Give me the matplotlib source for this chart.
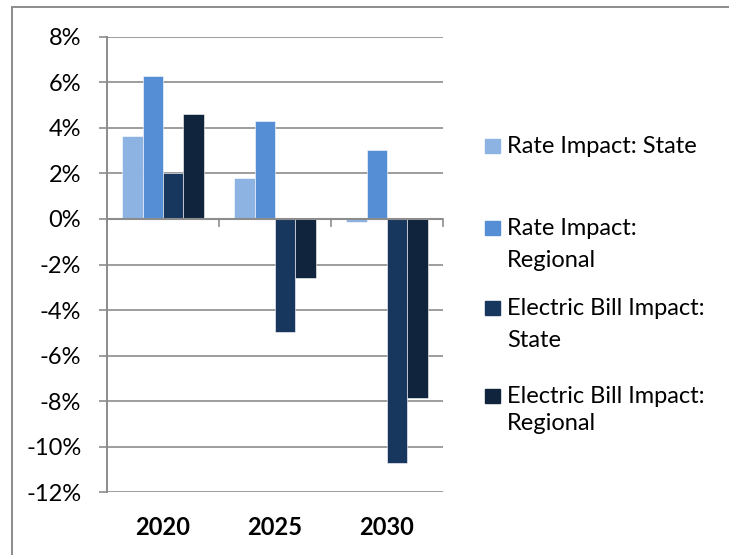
import matplotlib
matplotlib.use("Agg")
import matplotlib.pyplot as plt
from matplotlib.patches import Rectangle
from matplotlib.lines import Line2D
import numpy as np

categories = ["2020", "2025", "2030"]
series_names = ["Rate Impact: State", "Rate Impact:\nRegional",
                "Electric Bill Impact:\nState", "Electric Bill Impact:\nRegional"]
rate_state = [3.66, 1.78, -0.13]
rate_regional = [6.28, 4.32, 3.01]
bill_state = [2.01, -4.96, -10.72]
bill_regional = [4.59, -2.59, -7.87]
series_values = [rate_state, rate_regional, bill_state, bill_regional]
colors = ["#8DB3E2", "#558ED5", "#17375E", "#10243E"]
yticks = list(range(-12, 9, 2))

plt.rcParams['font.family'] = ['Lato', 'DejaVu Sans']
FS = 17

W, H = 729, 555
fig = plt.figure(figsize=(W / 100, H / 100), dpi=100)
ax_l, ax_r, ax_t, ax_b = 107, 443, 36.7, 492.3
ax = fig.add_axes([ax_l / W, 1 - ax_b / H, (ax_r - ax_l) / W, (ax_b - ax_t) / H])

x = np.arange(len(categories))
bw = 0.1815
for i, (vals, c) in enumerate(zip(series_values, colors)):
    ax.bar(x + (i - 1.5) * bw, vals, bw, color=c, edgecolor="white", linewidth=0.4, zorder=3)

ax.set_xlim(-0.5, 2.5)
ax.set_ylim(-12, 8)
ax.set_yticks(yticks)
ax.set_yticklabels([f"{v}%" for v in yticks])
ax.grid(axis="y", color="#8C8C8C", linewidth=1.2, zorder=0)
ax.set_axisbelow(True)
for s in ["top", "right", "bottom"]:
    ax.spines[s].set_visible(False)
ax.spines["left"].set_color("#8C8C8C")
ax.spines["left"].set_linewidth(1.4)
ax.tick_params(axis="y", length=6, width=1.2, color="#8C8C8C", pad=12.5, labelsize=FS)
ax.axhline(0, color="#8C8C8C", linewidth=1.5, zorder=4)

# category boundary ticks below zero line
px_per_unit = (ax_b - ax_t) / 20.0
tl = 7 / px_per_unit
for xb in np.arange(-0.5, 2.6, 1.0):
    ax.plot([xb, xb], [0, -tl], color="#8C8C8C", linewidth=1.2, zorder=4, clip_on=False)

ax.set_xticks(x)
ax.set_xticklabels(categories, fontweight="bold")
ax.tick_params(axis="x", length=0, pad=17, labelsize=FS)

# legend (each text line placed at its baseline, in pixels from top)
baselines = [[153.3], [235, 266.7], [315, 346.7], [403.3, 430]]
sq = 14.5
for name, c, bl in zip(series_names, colors, baselines):
    fig.patches.append(Rectangle((485 / W, 1 - bl[0] / H), sq / W, sq / H,
                                 transform=fig.transFigure, color=c))
    for line, b in zip(name.split("\n"), bl):
        fig.text(507 / W, 1 - b / H, line, fontsize=FS, va="baseline", ha="left")

# outer border (left and top)
fig.add_artist(Line2D([12 / W, 12 / W], [0, 1 - 7 / H], color="#8C8C8C", linewidth=1.4, transform=fig.transFigure))
fig.add_artist(Line2D([12 / W, 1], [1 - 7 / H, 1 - 7 / H], color="#8C8C8C", linewidth=1.4, transform=fig.transFigure))

fig.savefig("out.png", dpi=100)
